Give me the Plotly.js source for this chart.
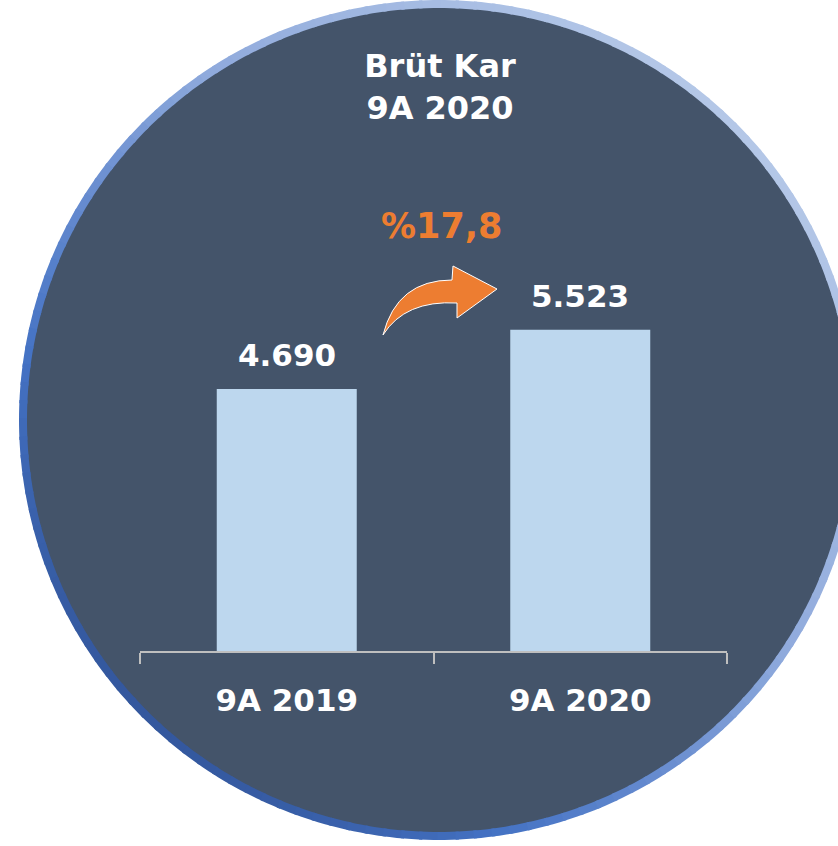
<!DOCTYPE html>
<html>
<head>
<meta charset="utf-8">
<script src="https://cdn.plot.ly/plotly-3.0.1.min.js"></script>
<style>
  html, body { margin: 0; padding: 0; background: #ffffff; }
  #chart { width: 838px; height: 846px; }
</style>
</head>
<body>
<div id="chart"></div>
<script>
// ---- data ----
const categories = ['9A 2019', '9A 2020'];
const values = [4690, 5523];
const valueLabels = ['4.690', '5.523'];
const growthLabel = '%17,8';
const titleLines = ['Brüt Kar', '9A 2020'];

// ---- page geometry helpers (pixel -> paper) ----
const W = 838, H = 846;
const px = x => x / W;
const py = y => 1 - y / H;

const FONT = 'DejaVu Sans, Liberation Sans, Arial, sans-serif';
const BG = '#44546A';
const BAR = '#BDD7EE';
const ORANGE = '#ED7D31';
const AXIS = '#BFBFBF';

// circle badge
const cx = 439, cy = 420, rMid = 416, ringW = 8;

function hexToRgb(h) { return [1,3,5].map(i => parseInt(h.substr(i,2),16)); }
const stops = [[0, '#34589E'], [0.2, '#4472C4'], [0.6, '#8FAADC'], [1, '#B4C7E7']];
function gradColor(t) {
  for (let i = 0; i < stops.length - 1; i++) {
    const [t0, c0] = stops[i], [t1, c1] = stops[i+1];
    if (t <= t1) {
      const f = (t - t0) / (t1 - t0);
      const a = hexToRgb(c0), b = hexToRgb(c1);
      const c = a.map((v, k) => Math.round(v + (b[k] - v) * f));
      return 'rgb(' + c.join(',') + ')';
    }
  }
  return stops[stops.length-1][1];
}

const shapes = [];
// filled disc
shapes.push({
  type: 'circle', xref: 'paper', yref: 'paper', layer: 'below',
  x0: px(cx - rMid), x1: px(cx + rMid), y0: py(cy + rMid), y1: py(cy - rMid),
  fillcolor: BG, line: { width: 0 }
});
// gradient ring made of short arc pieces
const N = 144;
for (let i = 0; i < N; i++) {
  const a0 = (i / N) * 2 * Math.PI - 0.004;
  const a1 = ((i + 1) / N) * 2 * Math.PI + 0.004;
  const am = (a0 + a1) / 2;
  const proj = (Math.cos(am) + Math.sin(am)) / Math.SQRT2;
  const t = (proj + 1) / 2;
  let d = '';
  const steps = 3;
  for (let s = 0; s <= steps; s++) {
    const a = a0 + (a1 - a0) * s / steps;
    const X = cx + rMid * Math.cos(a);
    const Y = cy - rMid * Math.sin(a);
    d += (s === 0 ? 'M' : 'L') + px(X).toFixed(5) + ',' + py(Y).toFixed(5);
  }
  shapes.push({
    type: 'path', xref: 'paper', yref: 'paper', layer: 'below',
    path: d, line: { color: gradColor(t), width: ringW }
  });
}

// curved arrow (decoration)
const P = (x, y) => px(x).toFixed(5) + ',' + py(y).toFixed(5);
const arrowPath =
  'M' + P(383, 335) +
  'Q' + P(397, 280) + ' ' + P(452, 280) +
  'L' + P(453, 266) +
  'L' + P(497, 289) +
  'L' + P(457, 318) +
  'L' + P(457, 303) +
  'Q' + P(405, 300) + ' ' + P(383, 335) + 'Z';
shapes.push({
  type: 'path', xref: 'paper', yref: 'paper', layer: 'above',
  path: arrowPath, fillcolor: ORANGE, line: { color: '#ffffff', width: 1 }
});

const trace = {
  type: 'bar',
  x: categories,
  y: values,
  marker: { color: BAR, line: { width: 0 } },
  cliponaxis: false,
  hoverinfo: 'skip'
};

const annotations = categories.map((c, i) => ({
  xref: 'x', yref: 'y', x: c, y: values[i],
  xanchor: 'center', yanchor: 'bottom', yshift: 14,
  text: valueLabels[i], showarrow: false,
  font: { family: FONT, size: 31, color: '#ffffff', weight: 'bold' }
}));
annotations.push({
  xref: 'paper', yref: 'paper',
  x: px(442), y: py(226), xanchor: 'center', yanchor: 'middle',
  text: growthLabel, showarrow: false,
  font: { family: FONT, size: 35, color: ORANGE, weight: 'bold' }
});

const layout = {
  width: W, height: H,
  margin: { l: 0, r: 0, t: 0, b: 0 },
  paper_bgcolor: '#ffffff',
  plot_bgcolor: 'rgba(0,0,0,0)',
  separators: ',.',
  showlegend: false,
  bargap: 0.523,
  title: {
    text: titleLines.join('<br>'),
    font: { family: FONT, size: 32, color: '#ffffff', weight: 'bold' },
    x: px(440), xanchor: 'center',
    y: py(77), yanchor: 'middle', yref: 'container'
  },
  xaxis: {
    domain: [px(140), px(727)],
    type: 'category',
    showline: true, linecolor: AXIS, linewidth: 2,
    ticks: 'outside', tickson: 'boundaries', ticklen: 11, tickwidth: 2, tickcolor: AXIS,
    tickfont: { family: FONT, size: 31, color: '#ffffff', weight: 'bold' },
    ticklabelstandoff: 21,
    showgrid: false, zeroline: false, fixedrange: true
  },
  yaxis: {
    domain: [py(651), py(225)],
    range: [1000, 7000],
    visible: false, showgrid: false, zeroline: false, fixedrange: true
  },
  shapes: shapes,
  annotations: annotations
};

Plotly.newPlot('chart', [trace], layout, { displayModeBar: false, staticPlot: true });
</script>
</body>
</html>
